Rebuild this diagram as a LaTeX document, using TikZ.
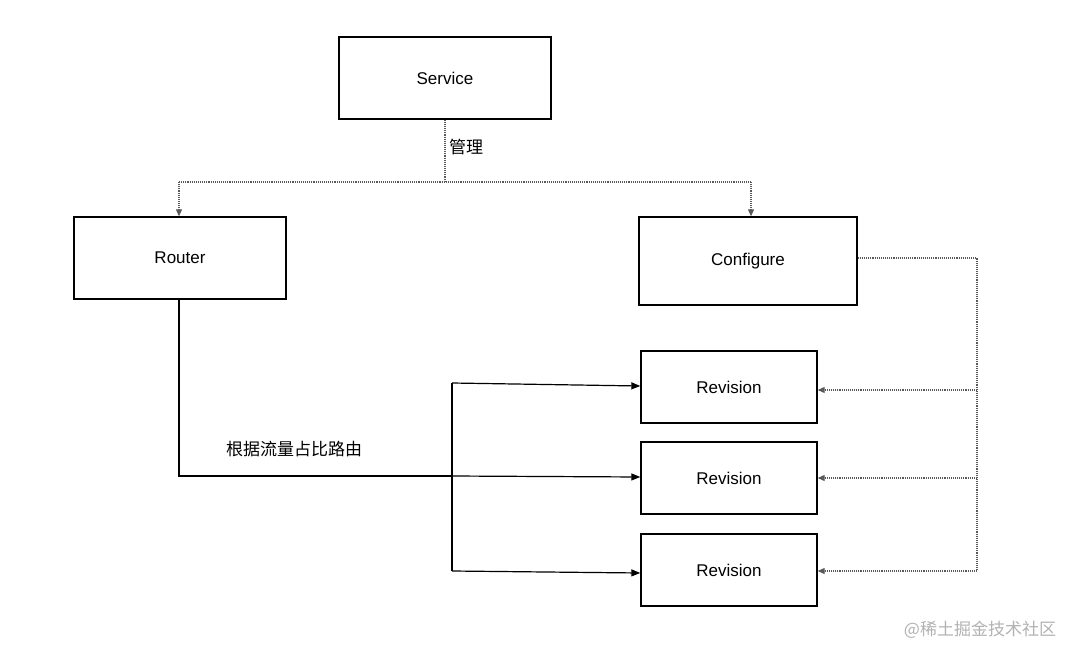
\documentclass[tikz,border=0pt]{standalone}
\usepackage{fontspec}
\setmainfont{Liberation Sans}
\newfontfamily\cjk{Noto Sans CJK SC}
\usetikzlibrary{arrows.meta}
\begin{document}
\begin{tikzpicture}[x=1pt,y=-1pt,
  box/.style={draw=black,line width=1.4pt,inner sep=0pt,font=\fontsize{17}{20}\selectfont},
  dotline/.style={draw=black!65,line width=1.1pt,densely dotted},
  tip/.style={-{Triangle[length=9pt,width=7pt]}},
  dtip/.style={-{Triangle[length=7pt,width=6pt]}},
  lbl/.style={font=\cjk\fontsize{17}{20}\selectfont,inner sep=0pt}]
\useasboundingbox[fill=white] (0,0) rectangle (1080,659);
\node[box,minimum width=212pt,minimum height=82pt] (service) at (445,78) {Service};
\node[box,minimum width=212pt,minimum height=82pt] (router) at (180,258) {Router};
\node[box,minimum width=218pt,minimum height=88pt] (config) at (748,261) {Configure};
\node[box,minimum width=176pt,minimum height=72pt] (rev1) at (729,387) {Revision};
\node[box,minimum width=176pt,minimum height=72pt] (rev2) at (729,478) {Revision};
\node[box,minimum width=176pt,minimum height=72pt] (rev3) at (729,570) {Revision};
\node[lbl,anchor=west] (manage) at (449,147) {管理};
\node[lbl] (route) at (294,449) {根据流量占比路由};
\node[font=\cjk\fontsize{17}{20}\selectfont,text=black!30,inner sep=0pt] (wm) at (980,630) {@稀土掘金技术社区};
% management split
\coordinate (split) at (445,182);
\coordinate (splitL) at (179,182);
\coordinate (splitR) at (751,182);
\draw[dotline] (service.south) -- (split);
\draw[dotline] (splitL) -- (splitR);
\draw[dotline,dtip] (splitL) -- (splitL |- router.north);
\draw[dotline,dtip] (splitR) -- (splitR |- config.north);
% router traffic
\coordinate (rdown) at (179,476);
\coordinate (branch) at (452,476);
\coordinate (b1) at (452,383);
\coordinate (b3) at (452,571);
\draw[line width=2.6pt] (router.south -| rdown) -- (rdown) -- (branch);
\draw[line width=1.2pt] (b1) -- (b3);
\draw[line width=1.2pt,tip] (b1) -- (rev1.west |- 0,386);
\draw[line width=1.2pt,tip] (branch) -- (rev2.west |- 0,477);
\draw[line width=1.2pt,tip] (b3) -- (rev3.west |- 0,573);
% configure
\coordinate (c1) at (977,258);
\coordinate (c2) at (977,571);
\draw[dotline] (config.east |- c1) -- (c1) -- (c2);
\draw[dotline,dtip] (977,390) -- (rev1.east |- 0,390);
\draw[dotline,dtip] (977,478) -- (rev2.east |- 0,478);
\draw[dotline,dtip] (c2) -- (rev3.east |- c2);
\end{tikzpicture}
\end{document}
